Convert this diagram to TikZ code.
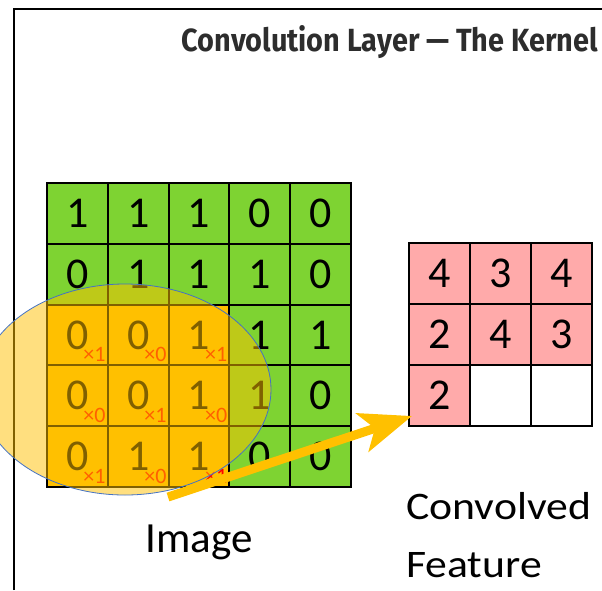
\documentclass[tikz,border=0pt]{standalone}
\usepackage{fontspec}
\setmainfont{Carlito}
\newfontfamily\titlefont{Fira Sans}
\usetikzlibrary{arrows.meta,shapes.geometric,calc}

\definecolor{imggreen}{RGB}{126,211,50}
\definecolor{kernelorange}{RGB}{255,192,0}
\definecolor{featpink}{RGB}{255,170,170}
\definecolor{subred}{RGB}{255,0,0}
\definecolor{ringblue}{RGB}{68,114,196}
\definecolor{titlegray}{RGB}{45,45,45}

\tikzset{
  imgcell/.style={draw=black, line width=2pt, minimum size=60.8pt,
    inner sep=0pt, outer sep=0pt, font=\fontsize{44}{44}\selectfont},
  featcell/.style={draw=black, line width=1.5pt, minimum size=61pt,
    inner sep=0pt, outer sep=0pt, font=\fontsize{44}{44}\selectfont},
  kernsub/.style={text=subred, inner sep=0pt, font=\fontsize{22}{22}\selectfont},
  window/.style={ellipse, draw=ringblue, line width=0.8pt, fill=kernelorange,
    fill opacity=0.5, draw opacity=1, inner sep=0pt,
    minimum width=292pt, minimum height=211pt},
  slide/.style={draw=kernelorange, line width=9pt,
    -{Stealth[length=52pt, width=40pt, inset=13pt]}},
  label/.style={inner sep=0pt, font=\fontsize{43}{43}\selectfont},
}

\begin{document}
\begin{tikzpicture}[x=1pt, y=-1pt]
  \useasboundingbox (0,0) rectangle (602,590);

  % frame
  \draw[line width=2pt] (14,590) -- (14,9) -- (602,9);

  % title
  \node[anchor=base east, inner sep=0pt, text=titlegray] (title) at (598,51)
    {\resizebox{416pt}{26pt}{\titlefont\bfseries Convolution Layer — The Kernel}};

  % input image, 5x5
  \foreach \vals [count=\r from 0] in
      {{1,1,1,0,0},{0,1,1,1,0},{0,0,1,1,1},{0,0,1,1,0},{0,1,1,0,0}} {
    \foreach \v [count=\c from 0] in \vals {
      \ifnum\r>1 \ifnum\c<3 \def\cellfill{kernelorange}\else\def\cellfill{imggreen}\fi
      \else \def\cellfill{imggreen}\fi
      \node[imgcell, fill=\cellfill] (g-\r-\c) at ({77.4+60.8*\c},{213.4+60.8*\r}) {\v};
    }
  }

  % kernel weights
  \foreach \ks [count=\r from 2] in {{1,0,1},{0,1,0},{1,0,1}} {
    \foreach \k [count=\c from 0] in \ks {
      \node[kernsub, anchor=base east, xshift=-2pt, yshift=4pt]
        (k-\r-\c) at (g-\r-\c.south east) {×\k};
    }
  }

  % receptive window
  \node[window] (win) at (125,389.5) {};

  % convolved feature, 3x3
  \foreach \vals [count=\r from 0] in {{4,3,4},{2,4,3},{2,{},{}}} {
    \foreach \v [count=\c from 0] in \vals {
      \ifnum\r=2 \ifnum\c>0 \def\cellfill{white}\else\def\cellfill{featpink}\fi
      \else \def\cellfill{featpink}\fi
      \node[featcell, fill=\cellfill] (f-\r-\c) at ({439.5+61*\c},{273.5+61*\r}) {\v};
    }
  }

  % labels
  \node[label, anchor=base] (imglabel) at (199,552) {Image};
  \node[label, anchor=base west] (convlabel) at (406,519)
    {\scalebox{1.12}[1]{\fontsize{39}{39}\selectfont Convolved}};
  \node[label, anchor=base west] (featlabel) at (406,577)
    {\scalebox{1.12}[1]{\fontsize{39}{39}\selectfont Feature}};

  % sliding arrow
  \coordinate (slidestart) at (168,497);
  \coordinate (slidetip) at ($(f-2-0.south west)+(3,-10)$);
  \draw[slide] (slidestart) -- (slidetip);
\end{tikzpicture}
\end{document}
